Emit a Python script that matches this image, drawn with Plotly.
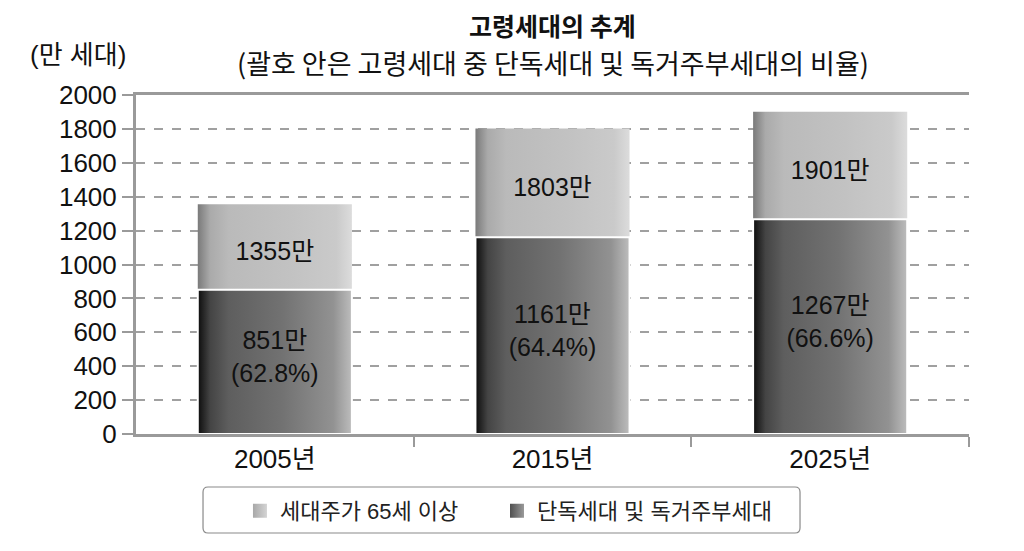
import plotly.graph_objects as go

years = ["2005년", "2015년", "2025년"]
total_households = [1355, 1803, 1901]
single_households = [851, 1161, 1267]
single_ratio = ["62.8%", "64.4%", "66.6%"]
series_names = ["세대주가 65세 이상", "단독세대 및 독거주부세대"]
y_ticks = [0, 200, 400, 600, 800, 1000, 1200, 1400, 1600, 1800, 2000]

FONT = "Liberation Sans, Noto Sans CJK KR"
KFONT = "Noto Sans CJK KR"
half_w = 0.2775

light_scale = [[0, "#7a7a7a"], [0.08, "#aaaaaa"], [0.2, "#bababa"], [0.6, "#c2c2c2"],
               [0.9, "#cacaca"], [1, "#dcdcdc"]]
dark_scale = [[0, "#0c0c0c"], [0.08, "#444444"], [0.2, "#5e5e5e"], [0.55, "#727272"],
              [0.88, "#929292"], [1, "#bdbdbd"]]

fig = go.Figure()

# legend entries (marker swatches)
fig.add_trace(go.Scatter(
    x=[None], y=[None], mode="markers", name=series_names[0], legend="legend",
    marker=dict(symbol="square", size=14, color="#a8a8a8",
                gradient=dict(type="horizontal", color="#d4d4d4"),
                line=dict(width=0))))
fig.add_trace(go.Scatter(
    x=[None], y=[None], mode="markers", name=series_names[1], legend="legend2",
    marker=dict(symbol="square", size=14, color="#505050",
                gradient=dict(type="horizontal", color="#9a9a9a"),
                line=dict(width=0))))


def bar_poly(i, v):
    xs = [i - half_w, i + half_w, i + half_w, i - half_w, i - half_w]
    ys = [0, 0, v, v, 0]
    return xs, ys


for i, v in enumerate(total_households):
    xs, ys = bar_poly(i, v)
    fig.add_trace(go.Scatter(
        x=xs, y=ys, mode="lines", fill="toself",
        line=dict(color="rgba(255,255,255,0)", width=0),
        fillgradient=dict(type="horizontal", colorscale=light_scale),
        name=series_names[0], showlegend=False, hoverinfo="skip"))

for i, v in enumerate(single_households):
    xs, ys = bar_poly(i, v)
    fig.add_trace(go.Scatter(
        x=xs, y=ys, mode="lines", fill="toself",
        line=dict(color="white", width=2),
        fillgradient=dict(type="horizontal", colorscale=dark_scale),
        name=series_names[1], showlegend=False, hoverinfo="skip"))

# labels
fig.add_trace(go.Scatter(
    x=list(range(len(years))),
    y=[(t + s) / 2 - 40 for t, s in zip(total_households, single_households)],
    mode="text", text=[f"{t}만" for t in total_households],
    textfont=dict(family=FONT, size=25, color="#111111"),
    showlegend=False, hoverinfo="skip"))
fig.add_trace(go.Scatter(
    x=list(range(len(years))),
    y=[s / 2 + 15 for s in single_households],
    mode="text", text=[f"{s}만<br>({r})" for s, r in zip(single_households, single_ratio)],
    textfont=dict(family=FONT, size=25, color="#111111"),
    showlegend=False, hoverinfo="skip"))

legend_style = dict(orientation="h", y=-0.227, yanchor="middle", xanchor="left",
                    borderwidth=0, bgcolor="rgba(0,0,0,0)",
                    font=dict(family=FONT, size=22, color="#222222"), itemwidth=30)

fig.update_layout(
    width=1024, height=551,
    margin=dict(l=136, r=55, t=95, b=117),
    paper_bgcolor="white", plot_bgcolor="white",
    font=dict(family=FONT, size=25, color="#111111"),
    showlegend=True,
    legend=dict(x=0.1248, **legend_style),
    legend2=dict(x=0.4334, **legend_style),
    xaxis=dict(range=[-0.5, 2.5], tickvals=list(range(len(years))), ticktext=years,
               ticks="", showgrid=False, zeroline=False,
               showline=True, linecolor="#9a9a9a", linewidth=3, mirror=True,
               tickfont=dict(family=FONT, size=26, color="#111111"),
               minor=dict(tickmode="array", tickvals=[0.5, 1.5, 2.5], ticks="outside",
                          ticklen=10, tickcolor="#9a9a9a", tickwidth=2, showgrid=False)),
    yaxis=dict(range=[0, 2000], tickvals=y_ticks, ticks="outside", ticklen=11,
               tickcolor="#9a9a9a", tickwidth=2,
               showline=True, linecolor="#9a9a9a", linewidth=3,
               showgrid=True, gridcolor="#a0a0a0", griddash="dash", gridwidth=1.5,
               zeroline=False,
               tickfont=dict(family=FONT, size=26, color="#111111")),
    shapes=[
        dict(type="path", xref="paper", yref="paper",
             xsizemode="pixel", ysizemode="pixel", xanchor=0.4388, yanchor=-0.2242,
             path="M -293.5,-23 L 293.5,-23 Q 298.5,-23 298.5,-18 L 298.5,18 "
                  "Q 298.5,23 293.5,23 L -293.5,23 Q -298.5,23 -298.5,18 "
                  "L -298.5,-18 Q -298.5,-23 -293.5,-23 Z",
             line=dict(color="#8a8a8a", width=1.2), fillcolor="white", layer="below"),
    ],
    annotations=[
        dict(text="<b>고령세대의 추계</b>", xref="paper", yref="paper", x=0.5, y=1.0,
             yshift=70, yanchor="middle", showarrow=False,
             font=dict(family=KFONT, size=25, color="#111111")),
        dict(text="(괄호 안은 고령세대 중 단독세대 및 독거주부세대의 비율)", xref="paper",
             yref="paper", x=0.5, y=1.0, yshift=33, yanchor="middle", showarrow=False,
             font=dict(family=KFONT, size=27, color="#111111")),
        dict(text="(만 세대)", xref="paper", yref="paper", x=0, xshift=-136 + 28,
             xanchor="left", y=1.0, yshift=40, yanchor="middle", showarrow=False,
             font=dict(family=FONT, size=26, color="#111111")),
    ],
)

fig.write_html("out.html")
